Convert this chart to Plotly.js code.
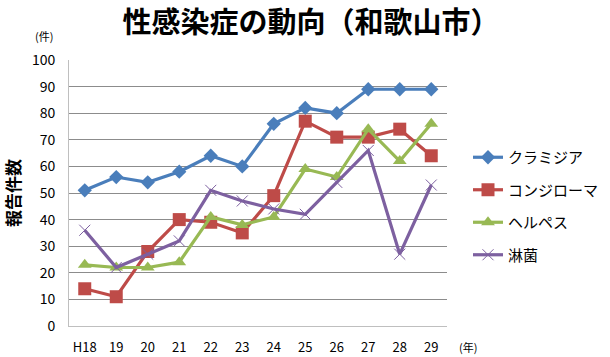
<!DOCTYPE html>
<html><head><meta charset="utf-8">
<script src="https://cdn.plot.ly/plotly-3.0.1.min.js"></script>
<style>html,body{margin:0;padding:0;background:#fff;}#chart{width:610px;height:357px;}</style>
</head><body><div id="chart"></div>
<script>
const categories = ["H18","19","20","21","22","23","24","25","26","27","28","29"];
const seriesNames = ["クラミジア","コンジローマ","ヘルペス","淋菌"];
const chlamydia = [51,56,54,58,64,60,76,82,80,89,89,89];
const condyloma = [14,11,28,40,39,35,49,77,71,71,74,64];
const herpes = [23,22,22,24,41,38,41,59,56,74,62,76];
const gonorrhea = [36,22,27,32,51,47,44,42,54,66,27,53];
const yTicks = [0,10,20,30,40,50,60,70,80,90,100];

const values = [chlamydia, condyloma, herpes, gonorrhea];
const colors = ["#4A7EBB","#BE4B48","#98B954","#7D60A0"];
const symbols = ["diamond","square","triangle-up","x-thin"];
const msizes = [11,13,12,11];

const traces = values.map((v,i)=>({
  x: categories, y: v, name: seriesNames[i], type: "scatter", mode: "lines+markers",
  legendgroup: "g"+i,
  line: {color: colors[i], width: 3.2},
  marker: {symbol: symbols[i], size: msizes[i], color: colors[i],
           line: {color: colors[i], width: i===3 ? 1 : 0}}
}));

const font = "'Noto Sans CJK JP', 'Liberation Sans', sans-serif";
const layout = {
  width: 610, height: 357,
  margin: {l: 69, r: 163, t: 60, b: 31, autoexpand: false},
  paper_bgcolor: "#fff", plot_bgcolor: "#fff",
  font: {family: font, color: "#000", size: 13},
  title: {text: "<b>性感染症の動向（和歌山市）</b>", x: 0.51, xref: "container", xanchor: "center",
          y: 1 - 23/357, yref: "container", yanchor: "middle",
          font: {size: 29, family: font, color: "#000"}},
  xaxis: {type: "category", range: [-0.5, 11.5], showgrid: false, zeroline: false,
          showline: true, linecolor: "#BFBFBF", linewidth: 1, ticks: "",
          ticklabelstandoff: 9,
          tickfont: {size: 13, family: font, color: "#000"}},
  yaxis: {range: [0, 100], tickvals: yTicks, ticktext: yTicks.map(String),
          showgrid: true, gridcolor: "#8C8C8C", gridwidth: 1, zeroline: false,
          showline: true, linecolor: "#BFBFBF", linewidth: 1, ticks: "",
          ticklabelstandoff: 10,
          tickfont: {size: 14, family: font, color: "#000"},
          title: {text: "<b>報告件数</b>", standoff: 12, font: {size: 17, family: font, color: "#000"}}},
  showlegend: true,
  legend: {x: 468/610, xref: "container", xanchor: "left", y: 1 - 141/357, yref: "container", yanchor: "top",
           traceorder: "grouped",
           tracegroupgap: 10, font: {size: 15, family: font, color: "#000"},
           bgcolor: "rgba(0,0,0,0)", itemwidth: 30},
  annotations: [
    {text: "(件)", x: (44-69)/378, xref: "paper", y: (326.7-36)/266.7, yref: "paper",
     xanchor: "center", yanchor: "middle", showarrow: false,
     font: {size: 11, family: font, color: "#000"}},
    {text: "(年)", x: (457-69)/378, xref: "paper", y: (326.7-348)/266.7, yref: "paper",
     xanchor: "left", yanchor: "middle", showarrow: false,
     font: {size: 11, family: font, color: "#000"}}
  ]
};
Plotly.newPlot("chart", traces, layout, {displayModeBar: false, staticPlot: true});
</script></body></html>
